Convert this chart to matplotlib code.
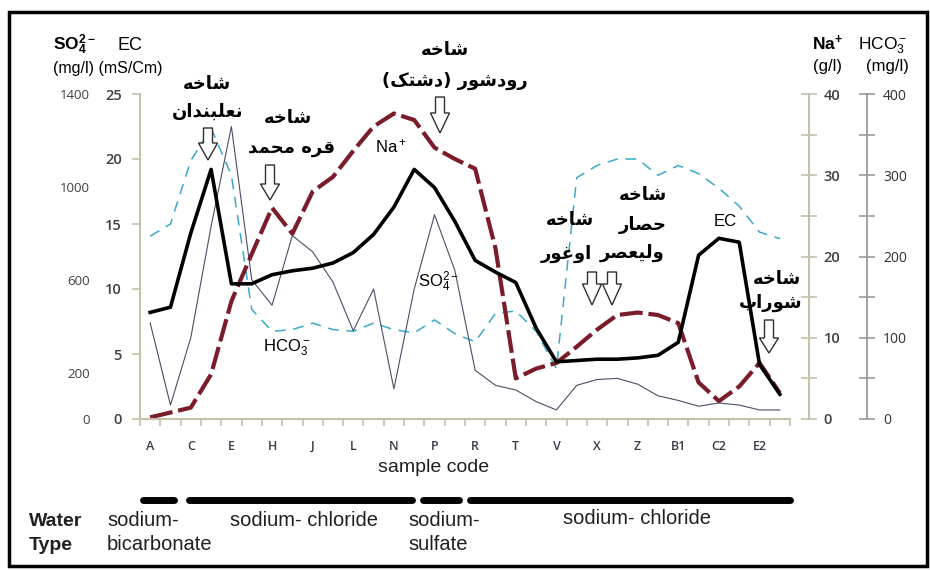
import matplotlib
matplotlib.use("Agg")
import matplotlib.pyplot as plt
from matplotlib.patches import Rectangle, Polygon
from matplotlib.lines import Line2D
import numpy as np

plt.rcParams['mathtext.fontset'] = 'custom'
plt.rcParams['mathtext.rm'] = 'Liberation Sans'
plt.rcParams['mathtext.it'] = 'Liberation Sans:italic'
plt.rcParams['mathtext.bf'] = 'Liberation Sans:bold'

# ---------------- data ----------------
samples = ['A', 'B', 'C', 'D', 'E', 'G', 'H', 'I', 'J', 'K', 'L', 'M', 'N', 'O', 'P', 'Q',
           'R', 'S', 'T', 'U', 'V', 'W', 'X', 'Y', 'Z', 'A1', 'B1', 'B2', 'C2', 'D2', 'E2', 'F2']
shown_labels = ['A', 'C', 'E', 'H', 'J', 'L', 'N', 'P', 'R', 'T', 'V', 'X', 'Z', 'B1', 'C2', 'E2']

ec = [8.2, 8.6, 14.3, 19.2, 10.4, 10.4, 11.1, 11.4, 11.6, 12.0, 12.8, 14.2, 16.3, 19.2, 17.8, 15.2,
      12.2, 11.3, 10.5, 7.0, 4.4, 4.5, 4.6, 4.6, 4.7, 4.9, 5.9, 12.6, 13.9, 13.6, 4.2, 1.9]
na = [0.2, 0.8, 1.4, 5.5, 14.5, 20.3, 26.0, 22.8, 28.0, 29.8, 33.0, 36.0, 37.6, 36.8, 33.4, 32.0,
      30.8, 21.0, 5.0, 6.2, 6.9, 8.9, 11.0, 12.8, 13.1, 12.8, 11.8, 4.5, 2.2, 4.0, 6.9, 3.2]
hco3 = [225, 240, 318, 358, 300, 135, 108, 110, 118, 110, 108, 118, 110, 106, 122, 105,
        95, 130, 133, 108, 62, 297, 312, 320, 320, 300, 312, 302, 284, 262, 230, 222]
so4 = [414, 60, 350, 830, 1260, 600, 490, 790, 720, 590, 380, 560, 130, 560, 880, 640,
       210, 145, 125, 75, 39, 145, 170, 175, 150, 100, 80, 55, 69, 60, 39, 39]

ec_ticks = [0, 5, 10, 15, 20, 25]
so4_ticks = [0, 200, 600, 1000, 1400]
na_ticks = [0, 10, 20, 30, 40]
hco3_ticks = [0, 100, 200, 300, 400]

water_types = ['sodium-\nbicarbonate', 'sodium- chloride', 'sodium-\nsulfate', 'sodium- chloride']

# ---------------- simple Arabic shaping ----------------
FORMS = {
    'ا': ('\uFE8D', '\uFE8E', None, None), 'ب': ('\uFE8F', '\uFE90', '\uFE91', '\uFE92'),
    'ت': ('\uFE95', '\uFE96', '\uFE97', '\uFE98'), 'ح': ('\uFEA1', '\uFEA2', '\uFEA3', '\uFEA4'),
    'خ': ('\uFEA5', '\uFEA6', '\uFEA7', '\uFEA8'), 'د': ('\uFEA9', '\uFEAA', None, None),
    'ر': ('\uFEAD', '\uFEAE', None, None), 'ش': ('\uFEB5', '\uFEB6', '\uFEB7', '\uFEB8'),
    'ص': ('\uFEB9', '\uFEBA', '\uFEBB', '\uFEBC'), 'ع': ('\uFEC9', '\uFECA', '\uFECB', '\uFECC'),
    'غ': ('\uFECD', '\uFECE', '\uFECF', '\uFED0'), 'ق': ('\uFED5', '\uFED6', '\uFED7', '\uFED8'),
    'ل': ('\uFEDD', '\uFEDE', '\uFEDF', '\uFEE0'), 'م': ('\uFEE1', '\uFEE2', '\uFEE3', '\uFEE4'),
    'ن': ('\uFEE5', '\uFEE6', '\uFEE7', '\uFEE8'), 'ه': ('\uFEE9', '\uFEEA', '\uFEEB', '\uFEEC'),
    'و': ('\uFEED', '\uFEEE', None, None), 'ي': ('\uFEF1', '\uFEF2', '\uFEF3', '\uFEF4'),
    'ک': ('\uFB8E', '\uFB8F', '\uFB90', '\uFB91'),
}
RIGHT_ONLY = set('ادرو')


def shape(text):
    out = []
    for k, c in enumerate(text):
        if c not in FORMS:
            out.append(c)
            continue
        prev = text[k - 1] if k > 0 else None
        nxt = text[k + 1] if k + 1 < len(text) else None
        jp = prev in FORMS and prev not in RIGHT_ONLY
        jn = nxt in FORMS and c not in RIGHT_ONLY
        iso, fin, ini, med = FORMS[c]
        out.append(med if (jp and jn) else fin if jp else ini if jn else iso)
    return ''.join(reversed(out)).translate(str.maketrans('()', ')('))


# ---------------- figure ----------------
W, H = 930, 570
fig = plt.figure(figsize=(W / 100, H / 100), dpi=100)
fig.patch.set_facecolor('white')


def fx(x):
    return x / W


def fy(y):
    return 1 - y / H


ax = fig.add_axes([fx(140), fy(419), 650 / W, 325 / H])
ax2 = ax.twinx()
ax3 = ax.twinx()
ax4 = ax.twinx()

xs = np.arange(len(samples))
axis_col = '#c4c0aa'
lab_col = '#404040'

# lines
ax4.plot(xs, hco3, color='#3aa8cc', lw=1.1, dashes=(7, 5), zorder=2)
ax2.plot(xs, so4, color='#4c4c66', lw=0.8, zorder=2)
l_na, = ax3.plot(xs, na, color='#7a1c2a', lw=3.0, zorder=3, solid_capstyle='butt')
l_na.set_dashes((5.5, 1.4))
ax.plot(xs, ec, color='black', lw=2.6, zorder=4, solid_joinstyle='round')

ax.set_zorder(5)
ax.patch.set_visible(False)
for a in (ax2, ax3, ax4):
    a.patch.set_visible(False)
ax2.set_zorder(2)
ax4.set_zorder(1)
ax3.set_zorder(3)

# x axis
ax.set_xlim(-0.5, len(samples) - 0.5)
ax.set_xticks(xs[::2])
ax.set_xticklabels(shown_labels, fontsize=9, fontweight='semibold', color='#3a3a4a',
                   fontfamily='Open Sans')
ax.set_xticks(np.arange(-0.5, len(samples), 1.0), minor=True)
ax.tick_params(axis='x', which='major', length=0, pad=15)
ax.tick_params(axis='x', which='minor', length=5, color=axis_col, width=1.2)
for s in ('top', 'right'):
    ax.spines[s].set_visible(False)
ax.spines['bottom'].set_color(axis_col)
ax.spines['bottom'].set_linewidth(1.5)
ax.spines['left'].set_color(axis_col)
ax.spines['left'].set_linewidth(1.5)

# EC axis
ax.set_ylim(0, 25)
ax.set_yticks(ec_ticks)
ax.set_yticklabels([str(t) for t in ec_ticks], fontsize=10.5, fontweight='semibold',
                   color=lab_col, fontfamily='Open Sans')
ax.tick_params(axis='y', length=6, color=axis_col, width=1.2, pad=7)

# SO4 axis (labels only, left side)
ax2.set_ylim(0, 1400)
ax2.yaxis.tick_left()
ax2.set_yticks(so4_ticks)
ax2.set_yticklabels([str(t) for t in so4_ticks], fontsize=9.5, color=lab_col,
                    fontfamily='Open Sans')
ax2.tick_params(axis='y', length=0, pad=36)
for s in ax2.spines.values():
    s.set_visible(False)

# Na axis
ax3.set_ylim(0, 40)
for s in ('top', 'left', 'bottom'):
    ax3.spines[s].set_visible(False)
ax3.spines['right'].set_position(('axes', (809 - 140) / 650))
ax3.spines['right'].set_color(axis_col)
ax3.spines['right'].set_linewidth(1.5)
ax3.set_yticks(na_ticks)
ax3.set_yticklabels([str(t) for t in na_ticks], fontsize=10.5, fontweight='semibold',
                    color=lab_col, fontfamily='Open Sans')
ax3.set_yticks([5, 15, 25, 35], minor=True)
ax3.tick_params(axis='y', which='both', direction='inout', length=11, color=axis_col,
                width=1.2, pad=5)

# HCO3 axis
ax4.set_ylim(0, 400)
for s in ('top', 'left', 'bottom'):
    ax4.spines[s].set_visible(False)
ax4.spines['right'].set_position(('axes', (867 - 140) / 650))
ax4.spines['right'].set_color('#9a9a9a')
ax4.spines['right'].set_linewidth(1.3)
ax4.set_yticks(hco3_ticks)
ax4.set_yticklabels([str(t) for t in hco3_ticks], fontsize=10, color='#303030',
                    fontfamily='Open Sans')
ax4.set_yticks([50, 150, 250, 350], minor=True)
ax4.tick_params(axis='y', which='both', direction='inout', length=11, color='#9a9a9a',
                width=1.2, pad=6)

# ---------------- header texts ----------------
tf = 'Liberation Sans'
fig.text(fx(53), fy(50), r'SO$_\mathbf{4}^\mathbf{2-}$', fontsize=12.5, fontweight='bold',
         family=tf, ha='left', va='baseline')
fig.text(fx(130), fy(50), 'EC', fontsize=13, family=tf, ha='center', va='baseline')
fig.text(fx(108), fy(68), '(mg/l) (mS/Cm)', fontsize=11.5, family=tf, ha='center', va='center')
fig.text(fx(812), fy(50), r'Na$^\mathbf{+}$', fontsize=12.5, fontweight='bold', family=tf,
         ha='left', va='baseline')
fig.text(fx(858), fy(50), r'HCO$_3^-$', fontsize=12.5, family=tf, ha='left', va='baseline')
fig.text(fx(827), fy(67), '(g/l)', fontsize=12, family=tf, ha='center', va='center')
fig.text(fx(887), fy(67), '(mg/l)', fontsize=12, family=tf, ha='center', va='center')

# in-plot series labels
fig.text(fx(375), fy(152), r'Na$^+$', fontsize=12, family=tf, ha='left', va='baseline')
fig.text(fx(418), fy(287), r'SO$_4^{2-}$', fontsize=12, family=tf, ha='left', va='baseline')
fig.text(fx(263), fy(352), r'HCO$_3^-$', fontsize=12, family=tf, ha='left', va='baseline')
fig.text(fx(725), fy(222), 'EC', fontsize=12, family=tf, ha='center', va='center')

# x label
fig.text(fx(434), fy(468), 'sample code', fontsize=14, family=tf, ha='center', va='center',
         color='#202020')

# ---------------- Persian branch labels ----------------
persian = [
    ('شاخه', 207, 84), ('نعلبندان', 208, 112),
    ('شاخه', 288, 118), ('قره محمد', 292, 148),
    ('شاخه', 445, 50), ('رودشور (دشتک)', 455, 81),
    ('شاخه', 570, 220), ('اوغور', 566, 254),
    ('شاخه', 643, 195), ('حصار', 643, 225), ('وليعصر', 632, 253),
    ('شاخه', 777, 279), ('شوراب', 771, 303),
]
for txt, x, y in persian:
    fig.text(fx(x), fy(y), shape(txt), fontsize=13, fontweight='bold',
             family=['DejaVu Sans'], ha='center', va='center', color='black', zorder=10)

# ---------------- hollow arrows ----------------
arrows = [(208, 128, 143, 160), (270, 165, 184, 200), (440, 97, 113, 133),
          (592, 272, 284, 305), (612, 272, 284, 305), (769, 320, 338, 353)]
for cx, top, hs, tip in arrows:
    sw, hw = 4.5, 9.5
    pts = [(cx - sw, top), (cx + sw, top), (cx + sw, hs), (cx + hw, hs), (cx, tip),
           (cx - hw, hs), (cx - sw, hs)]
    fig.patches.append(Polygon([(fx(px), fy(py)) for px, py in pts], closed=True,
                               transform=fig.transFigure, facecolor='white',
                               edgecolor='#303030', lw=1.0, zorder=9))

# ---------------- water type ----------------
bars = [(143, 174), (189, 412), (423, 459), (470, 790)]
for x0, x1 in bars:
    fig.lines.append(Line2D([fx(x0), fx(x1)], [fy(500), fy(500)], transform=fig.transFigure,
                            color='black', lw=5, solid_capstyle='round'))
fig.text(fx(29), fy(521), 'Water', fontsize=14, fontweight='bold', family=tf, ha='left',
         va='center', color='#202020')
fig.text(fx(29), fy(545), 'Type', fontsize=14, fontweight='bold', family=tf, ha='left',
         va='center', color='#202020')
wt_pos = [(107, 521), (230, 521), (408, 521), (563, 519)]
for t, (x, y) in zip(water_types, wt_pos):
    lines = t.split('\n')
    for j, ln in enumerate(lines):
        fig.text(fx(x), fy(y + 24 * j), ln, fontsize=14.5, family=tf, ha='left', va='center',
                 color='#202020')

# frame
fig.patches.append(Rectangle((fx(9), fy(566)), (927 - 9) / W, (566 - 12) / H,
                             transform=fig.transFigure, fill=False, lw=2.5,
                             edgecolor='black'))

fig.savefig('out.png', dpi=100)
